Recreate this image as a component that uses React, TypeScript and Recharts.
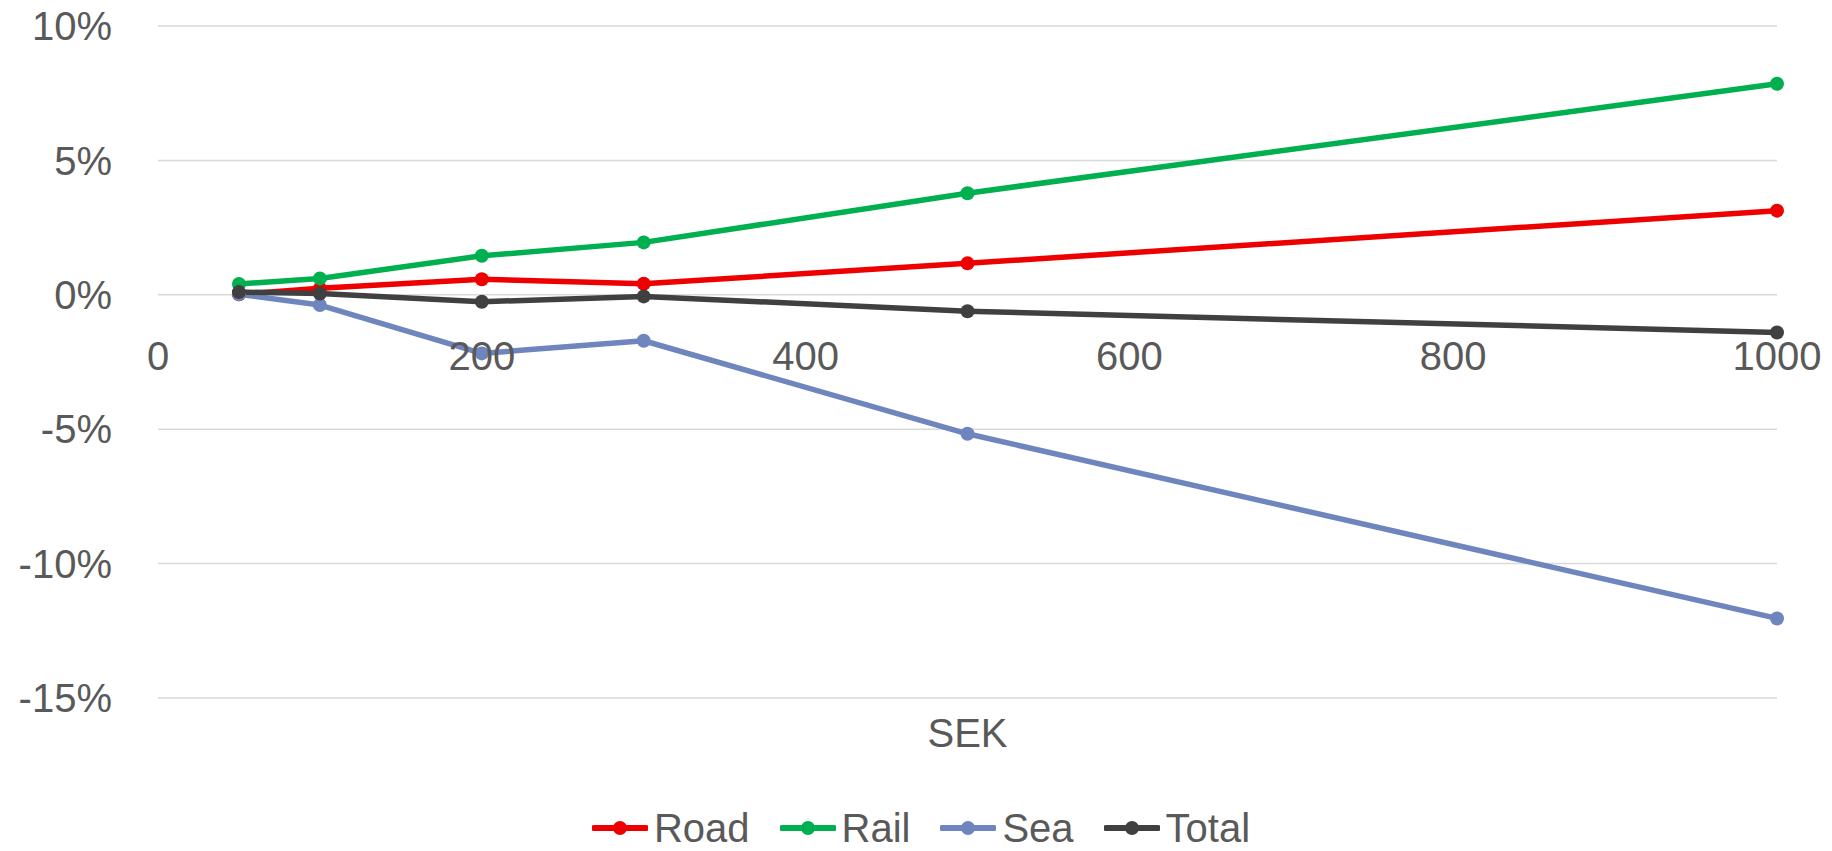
import React from 'react';
import { LineChart, Line, XAxis, YAxis, CartesianGrid, Legend, ReferenceDot } from 'recharts';

const xValues = [50, 100, 200, 300, 500, 1000];
const road = [0.02, 0.24, 0.58, 0.41, 1.17, 3.13];
const rail = [0.40, 0.61, 1.45, 1.95, 3.78, 7.85];
const sea = [0.02, -0.38, -2.18, -1.71, -5.17, -12.04];
const total = [0.10, 0.05, -0.26, -0.06, -0.61, -1.40];

const xTicks = [0, 200, 400, 600, 800, 1000];
const yTicks = [-15, -10, -5, 0, 5, 10];

const seriesDefs = [
  { key: 'Road', values: road, color: '#EE0000' },
  { key: 'Rail', values: rail, color: '#00B050' },
  { key: 'Sea', values: sea, color: '#6E85BE' },
  { key: 'Total', values: total, color: '#404040' },
];

const data = xValues.map((x, i) => {
  const row: any = { x };
  seriesDefs.forEach((s) => (row[s.key] = s.values[i]));
  return row;
});

const FONT = "'Liberation Sans', Arial, sans-serif";
const TEXT = '#595959';

const LegendContent = () => (
  <div
    style={{
      display: 'flex',
      justifyContent: 'center',
      alignItems: 'center',
      paddingLeft: 40,
      height: 46,
      fontFamily: FONT,
      fontSize: 40,
      color: TEXT,
    }}
  >
    {seriesDefs.map((s) => (
      <div key={s.key} style={{ display: 'flex', alignItems: 'center', marginRight: 30 }}>
        <svg width={56} height={20} style={{ marginRight: 6 }}>
          <line x1={2} y1={10} x2={54} y2={10} stroke={s.color} strokeWidth={6} strokeLinecap="round" />
          <circle cx={28} cy={10} r={7} fill={s.color} />
        </svg>
        <span style={{ lineHeight: '46px' }}>{s.key}</span>
      </div>
    ))}
  </div>
);

export default function App() {
  return (
    <div style={{ width: 1832, height: 851, background: '#fff' }}>
      <style>{`body{margin:0}`}</style>
      <LineChart
        width={1832}
        height={851}
        data={data}
        margin={{ top: 26, right: 55, bottom: 0, left: 0 }}
      >
        <CartesianGrid vertical={false} stroke="#D9D9D9" strokeWidth={1.5} />
        <XAxis
          dataKey="x"
          type="number"
          domain={[0, 1000]}
          ticks={xTicks}
          tick={false}
          tickLine={false}
          axisLine={false}
          height={107}
          label={{ value: 'SEK', position: 'insideTop', offset: 21, fill: TEXT, fontSize: 40, fontFamily: FONT }}
        />
        <YAxis
          type="number"
          domain={[-15, 10]}
          ticks={yTicks}
          width={158}
          axisLine={false}
          tickLine={false}
          tickSize={0}
          tickMargin={46}
          tickFormatter={(v: number) => `${v}%`}
          tick={{ fill: TEXT, fontSize: 40, fontFamily: FONT }}
        />
        {xTicks.map((t) => (
          <ReferenceDot
            key={t}
            x={t}
            y={0}
            r={1}
            fill="none"
            stroke="none"
            label={{ value: String(t), position: 'bottom', offset: 46, fill: TEXT, fontSize: 40, fontFamily: FONT }}
          />
        ))}
        <Legend verticalAlign="bottom" content={<LegendContent />} wrapperStyle={{ left: 0, width: 1832 }} />
        {seriesDefs.map((s) => (
          <Line
            key={s.key}
            type="linear"
            dataKey={s.key}
            stroke={s.color}
            strokeWidth={5.5}
            strokeLinejoin="round"
            dot={{ r: 7, fill: s.color, stroke: 'none' }}
            isAnimationActive={false}
          />
        ))}
      </LineChart>
    </div>
  );
}
